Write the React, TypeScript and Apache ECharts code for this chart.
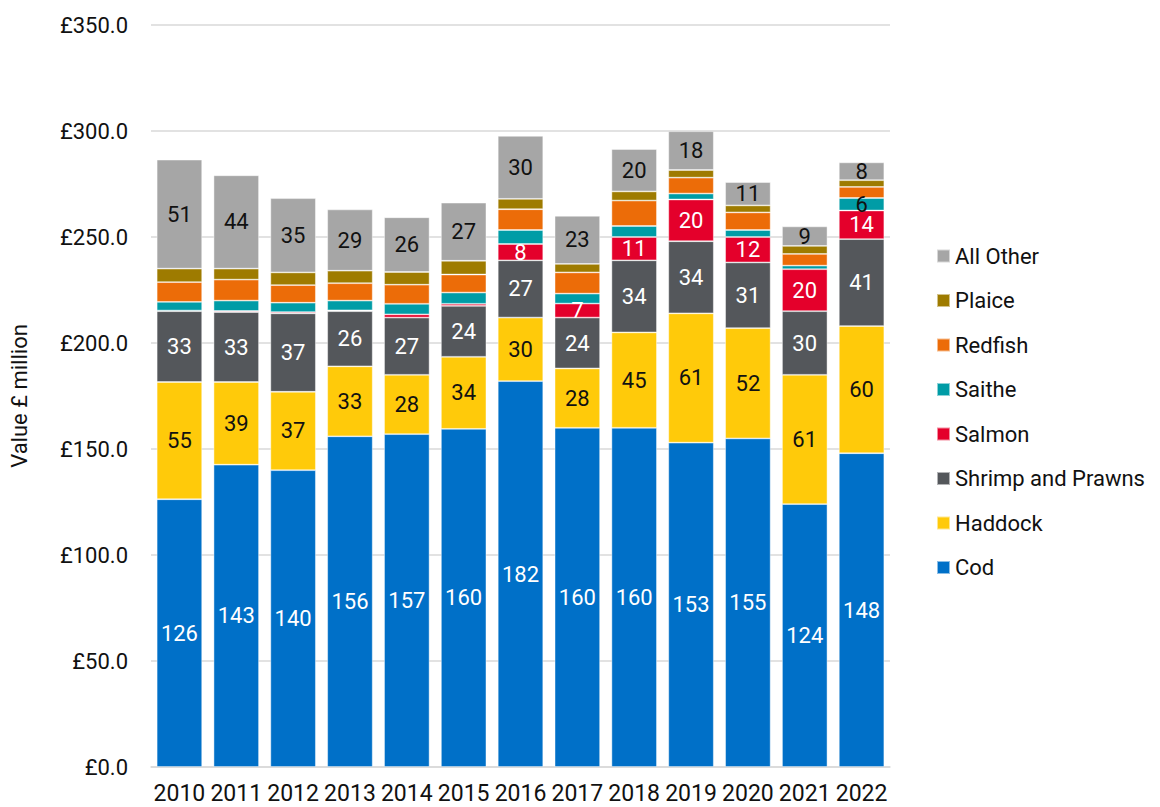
import React, { useEffect, useRef } from "react";
import * as echarts from "echarts";

const years = ["2010","2011","2012","2013","2014","2015","2016","2017","2018","2019","2020","2021","2022"];
const cod = [126.3,142.6,140,156,157,159.5,182,160,160,153,155,124,148];
const haddock = [55.3,39,37,33,28,34,30,28,45,61,52,61,60];
const shrimp = [33.4,33,37,26,27,24,27,24,34,34,31,30,41];
const salmon = [0.3,0.5,0.6,0.4,1.5,1,7.7,6.6,11,19.7,12,19.8,13.5];
const saithe = [4.1,4.9,4.4,4.6,5,5.3,6.6,4.7,5.2,2.8,3.3,1.7,5.9];
const redfish = [9.3,9.9,8.3,8.2,9,8.5,9.8,10,12,7.5,8.3,5.5,5.2];
const plaice = [6.4,5.2,6,5.9,6,6.5,4.9,4,4.3,3.6,3.3,3.8,3.2];
const allOther = [51.4,44,35,28.9,25.8,27.4,29.7,22.7,20,18.3,11,9.2,8.4];
const yTicks = [0,50,100,150,200,250,300,350];

// which values carry a data label
const salmonLabelFrom = 6; // index of first labelled salmon value (2016)
const saitheLabelled = ["2022"];

export default function App() {
  const ref = useRef<HTMLDivElement>(null);
  useEffect(() => {
    if (!ref.current) return;
    document.body.style.margin = "0";
    const chart = echarts.init(ref.current, null, { renderer: "svg" });
    const font = "Roboto";
    const lbl = (color: string) => ({
      show: true,
      position: "inside" as const,
      color,
      fontSize: 22,
      fontFamily: font,
      formatter: (p: any) => String(Math.round(p.value)),
    });
    const mk = (name: string, data: any[], color: string, label: any) => ({
      name,
      type: "bar",
      stack: "total",
      barWidth: "80%",
      data,
      itemStyle: { color, borderColor: "rgba(255,255,255,0.55)", borderWidth: 0.8 },
      label,
      emphasis: { disabled: true },
    });
    const salmonData = salmon.map((v, i) => ({ value: v, label: { show: i >= salmonLabelFrom } }));
    const saitheData = saithe.map((v, i) => ({ value: v, label: { show: saitheLabelled.includes(years[i]) } }));
    chart.setOption({
      animation: false,
      textStyle: { fontFamily: font },
      grid: { left: 144, right: 270, top: 25, bottom: 40, containLabel: false },
      legend: {
        orient: "vertical",
        left: 931,
        top: 240,
        itemWidth: 13,
        itemHeight: 13,
        itemGap: 22.5,
        icon: "rect",
        textStyle: { fontSize: 22, color: "#111", fontFamily: font, lineHeight: 22 },
        data: ["All Other","Plaice","Redfish","Saithe","Salmon","Shrimp and Prawns","Haddock","Cod"],
      },
      xAxis: {
        type: "category",
        data: years,
        axisTick: { show: false },
        axisLine: { lineStyle: { color: "#d9d9d9", width: 1.5 } },
        axisLabel: { fontSize: 23, lineHeight: 24, color: "#111", margin: 14, fontFamily: font, interval: 0 },
      },
      yAxis: {
        type: "value",
        min: 0,
        max: 350,
        interval: 50,
        name: "Value £ million",
        nameLocation: "middle",
        nameGap: 121,
        nameTextStyle: { fontSize: 22, color: "#111", fontFamily: font },
        axisLine: { show: false },
        axisTick: { show: false },
        splitLine: { lineStyle: { color: "#d9d9d9", width: 1.5 } },
        axisLabel: {
          fontSize: 22,
          color: "#111",
          margin: 23,
          fontFamily: font,
          formatter: (v: number) => (yTicks.includes(v) ? "£" + v.toFixed(1) : ""),
        },
      },
      series: [
        mk("Cod", cod, "#0070C8", lbl("#ffffff")),
        mk("Haddock", haddock, "#FFCA0A", lbl("#111111")),
        mk("Shrimp and Prawns", shrimp, "#54575B", lbl("#ffffff")),
        mk("Salmon", salmonData, "#E4002B", lbl("#ffffff")),
        mk("Saithe", saitheData, "#009CA6", lbl("#111111")),
        mk("Redfish", redfish, "#EC6C08", { show: false }),
        mk("Plaice", plaice, "#9E7B00", { show: false }),
        mk("All Other", allOther, "#A6A6A6", lbl("#111111")),
      ],
    });
    return () => chart.dispose();
  }, []);
  return <div ref={ref} style={{ width: 1160, height: 807 }} />;
}
